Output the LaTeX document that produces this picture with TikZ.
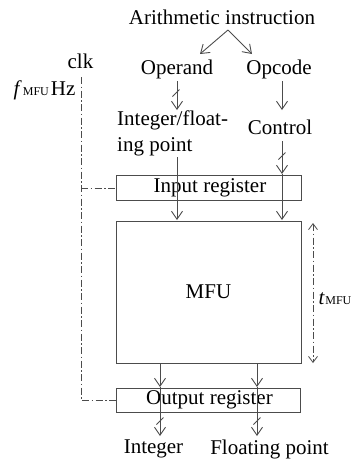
\documentclass[tikz,border=0pt]{standalone}
\usepackage{fontspec}
\setmainfont{Liberation Serif}
\usetikzlibrary{arrows.meta,calc}
\tikzset{
  txt/.style={inner sep=0pt, font=\fontsize{21}{26}\selectfont},
  regbox/.style={draw=black!70, line width=0.9pt, inner sep=0pt, font=\fontsize{21}{26}\selectfont},
  conn/.style={draw=black!70, line width=0.9pt, -{Straight Barb[length=8pt,width=11pt]}},
  clkline/.style={draw=black!70, line width=0.8pt, dash pattern=on 7pt off 2.5pt on 1.5pt off 2.5pt},
  slash/.style={draw=black!70, line width=0.8pt}
}
\newcommand{\busmark}[1]{\draw[slash] ($(#1)+(-3.5,3.5)$) -- ($(#1)+(3.5,-3.5)$);}
\begin{document}
\begin{tikzpicture}[x=1pt,y=-1pt]
\useasboundingbox (0,0) rectangle (352,459);
% texts
\node[txt] (title) at (222,17) {Arithmetic instruction};
\node[txt] (operand) at (177,69) {Operand};
\node[txt] (opcode) at (279,69) {Opcode};
\node[txt, align=left, anchor=north west] (intfp) at (117,111) {Integer/float-\\ing point};
\node[txt] (control) at (280,127) {Control};
\node[txt] (clk) at (80.5,61) {clk};
\node[txt] (fmfu) at (44.5,90) {\textit{f}\kern1pt{\fontsize{12}{14}\selectfont MFU}\kern2pt Hz};
\node[txt] (tmfu) at (335,299) {\textit{t}\kern0.5pt{\fontsize{12}{14}\selectfont MFU}};
% boxes
\node[regbox, minimum width=185pt, minimum height=25pt] (inreg) at (208.5,187.5) {\kern3pt Input register};
\node[regbox, minimum width=185pt, minimum height=142pt] (mfu) at (208.5,292) {MFU};
\node[regbox, minimum width=184pt, minimum height=24pt] (outreg) at (208,400) {\kern3pt Output register};
\node[txt] (intout) at (153.5,449) {Integer};
\node[txt] (fpout) at (269.5,449) {Floating point};
% coordinates
\coordinate (apex) at (228,30);
\coordinate (opL) at (200,54);
\coordinate (opR) at (252,54);
\coordinate (a1s) at (177,81);  \coordinate (a1e) at (177,110);
\coordinate (a2s) at (282,81);  \coordinate (a2e) at (282,110);
\coordinate (b1s) at (177,157); \coordinate (b1e) at (177,220);
\coordinate (b2s) at (282,141); \coordinate (b2m) at (282,174); \coordinate (b2e) at (282,220);
\coordinate (c1s) at (160,363); \coordinate (c1m) at (160,387); \coordinate (c1e) at (160,436);
\coordinate (c2s) at (257,363); \coordinate (c2m) at (257,387); \coordinate (c2e) at (257,436);
\coordinate (clktop) at (81,77);
\coordinate (clkbot) at (81,400);
\coordinate (clkin) at (81,188);
\coordinate (tt) at (313,223);
\coordinate (tb) at (313,363);
% connectors
\draw[conn] (apex) -- (opL);
\draw[conn] (apex) -- (opR);
\draw[conn] (a1s) -- (a1e);
\busmark{176,93}
\draw[conn] (a2s) -- (a2e);
\draw[conn] (b1s) -- (b1e);
\draw[conn] (b2s) -- (b2m);
\busmark{282,156}
\draw[conn] (b2m) -- (b2e);
\draw[conn] (c1s) -- (c1m);
\draw[conn] (c1m) -- (c1e);
\busmark{160,421}
\draw[conn] (c2s) -- (c2m);
\draw[conn] (c2m) -- (c2e);
\busmark{257,421}
\draw[clkline] (clktop) -- (clkbot) -- (outreg.west |- clkbot);
\draw[clkline] (clkin) -- (inreg.west |- clkin);
\draw[clkline, {Straight Barb[length=6pt,width=9pt]}-{Straight Barb[length=6pt,width=9pt]}] (tt) -- (tb);
\end{tikzpicture}
\end{document}
